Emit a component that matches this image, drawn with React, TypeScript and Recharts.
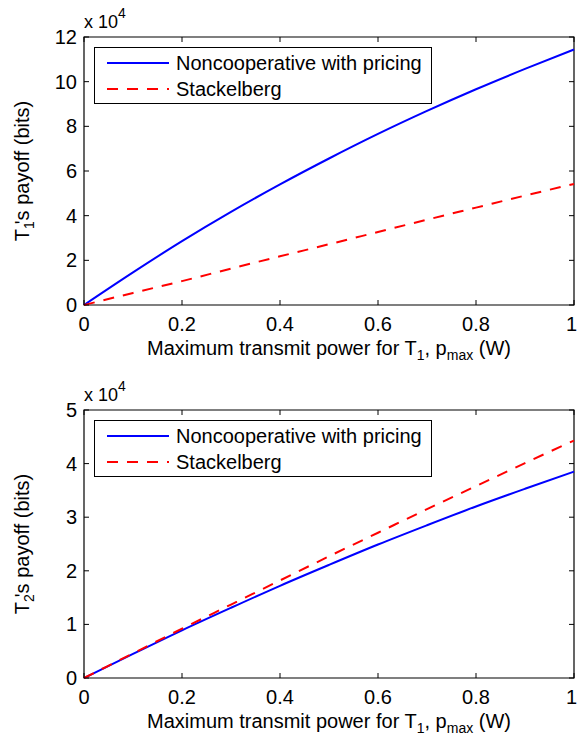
import React from "react";
import { LineChart, Line, XAxis, YAxis, ReferenceArea, Legend } from "recharts";

const powers = [0, 0.1, 0.2, 0.3, 0.4, 0.5, 0.6, 0.7, 0.8, 0.9, 1];
const t1Noncoop = [0, 14600, 28600, 41700, 54000, 65600, 76600, 86900, 96600, 105700, 114400];
const t1Stackelberg = [0, 5400, 10700, 16300, 21800, 27200, 32700, 38200, 43600, 49000, 54200];
const t2Noncoop = [0, 4500, 8900, 13100, 17200, 21100, 24900, 28500, 32000, 35300, 38500];
const t2Stackelberg = [0, 4600, 9200, 13700, 18200, 22700, 27100, 31500, 35800, 40100, 44300];

const xTicks = [0, 0.2, 0.4, 0.6, 0.8, 1];
const t1Ticks = [0, 20000, 40000, 60000, 80000, 100000, 120000];
const t2Ticks = [0, 10000, 20000, 30000, 40000, 50000];
const seriesNames = ["Noncooperative with pricing", "Stackelberg"];

const FONT = "'Liberation Sans', Arial, Helvetica, sans-serif";
const CHART_W = 578;
const PLOT_W = 490;
const PLOT_H = 268;
const TICK_FS = 20;
const LABEL_FS = 20;
const SUB_FS = 14;

const t1Data = powers.map((p, i) => ({ p, noncoop: t1Noncoop[i], stackelberg: t1Stackelberg[i] }));
const t2Data = powers.map((p, i) => ({ p, noncoop: t2Noncoop[i], stackelberg: t2Stackelberg[i] }));

function XTick(props: any) {
  const { x, y, payload } = props;
  const label = String(payload.value);
  // keep the last label inside the svg edge
  const atEdge = x + 7 > CHART_W;
  return (
    <g>
      <line x1={x} x2={x} y1={y} y2={y - 5} stroke="#000" />
      <line x1={x} x2={x} y1={y - PLOT_H} y2={y - PLOT_H + 5} stroke="#000" />
      <text
        x={atEdge ? CHART_W - 1 : x}
        y={y + 26}
        textAnchor={atEdge ? "end" : "middle"}
        fontSize={TICK_FS}
        fontFamily={FONT}
        fill="#000"
      >
        {label}
      </text>
    </g>
  );
}

function YTick(props: any) {
  const { x, y, payload } = props;
  return (
    <g>
      <line x1={x} x2={x + 5} y1={y} y2={y} stroke="#000" />
      <line x1={x + PLOT_W} x2={x + PLOT_W - 5} y1={y} y2={y} stroke="#000" />
      <text x={x - 7} y={y + 7} textAnchor="end" fontSize={TICK_FS} fontFamily={FONT} fill="#000">
        {String(payload.value / 10000)}
      </text>
    </g>
  );
}

function xLabel(props: any) {
  const vb = props.viewBox;
  const cx = vb.x + vb.width / 2;
  return (
    <text x={cx} y={vb.y + 50} textAnchor="middle" fontSize={LABEL_FS} fontFamily={FONT} fill="#000">
      Maximum transmit power for T
      <tspan dy={5} fontSize={SUB_FS}>1</tspan>
      <tspan dy={-5}>, p</tspan>
      <tspan dy={5} fontSize={SUB_FS}>max</tspan>
      <tspan dy={-5}> (W)</tspan>
    </text>
  );
}

function makeYLabel(idx: string) {
  return (props: any) => {
    const vb = props.viewBox;
    const left = vb.x + vb.width;
    const cy = vb.y + vb.height / 2;
    return (
      <g>
        <text x={left} y={vb.y - 9} fontSize={18} fontFamily={FONT} fill="#000">
          x 10<tspan dy={-10} fontSize={SUB_FS}>4</tspan>
        </text>
        <text
          x={29}
          y={cy}
          transform={`rotate(-90, 29, ${cy})`}
          textAnchor="middle"
          fontSize={LABEL_FS}
          fontFamily={FONT}
          fill="#000"
        >
          T<tspan dy={5} fontSize={SUB_FS}>{idx}</tspan>
          <tspan dy={-5} dx={-3}>'s payoff (bits)</tspan>
        </text>
      </g>
    );
  };
}

const DASHES = [undefined, "11 9"];

function renderLegend(props: any) {
  const payload = props.payload || [];
  return (
    <div
      style={{
        width: 338,
        height: 57,
        boxSizing: "border-box",
        border: "1px solid #000",
        background: "#fff",
        position: "relative",
        fontFamily: FONT,
        fontSize: LABEL_FS,
        color: "#000",
      }}
    >
      {payload.map((e: any, i: number) => (
        <div key={i} style={{ position: "absolute", left: 0, top: 2 + 26 * i, height: 26, width: 336 }}>
          <svg width={64} height={26} style={{ position: "absolute", left: 12, top: 0 }}>
            <line
              x1={0}
              x2={62}
              y1={13}
              y2={13}
              stroke={e.color}
              strokeWidth={2}
              strokeDasharray={(e.payload && e.payload.strokeDasharray) || DASHES[i]}
            />
          </svg>
          <span style={{ position: "absolute", left: 81, top: 0, lineHeight: "26px", whiteSpace: "nowrap" }}>
            {e.value}
          </span>
        </div>
      ))}
    </div>
  );
}

function PayoffChart(props: {
  data: any[];
  yMax: number;
  yTicks: number[];
  idx: string;
  height: number;
  marginTop: number;
  marginBottom: number;
}) {
  const { data, yMax, yTicks, idx, height, marginTop, marginBottom } = props;
  return (
    <LineChart
      width={CHART_W}
      height={height}
      data={data}
      margin={{ top: marginTop, right: 4, bottom: marginBottom, left: 24 }}
      style={{ fontFamily: FONT }}
    >
      <XAxis
        dataKey="p"
        type="number"
        domain={[0, 1]}
        ticks={xTicks}
        height={30}
        tickSize={0}
        tickMargin={0}
        tickLine={false}
        axisLine={false}
        tick={<XTick />}
        interval={0}
        label={xLabel}
      />
      <YAxis
        type="number"
        domain={[0, yMax]}
        ticks={yTicks}
        width={60}
        tickSize={0}
        tickMargin={0}
        tickLine={false}
        axisLine={false}
        tick={<YTick />}
        interval={0}
        label={makeYLabel(idx)}
      />
      <ReferenceArea x1={0} x2={1} y1={0} y2={yMax} fill="none" fillOpacity={0} stroke="#000" strokeWidth={1.2} />
      <Legend
        verticalAlign="middle"
        align="center"
        layout="horizontal"
        content={renderLegend}
        wrapperStyle={{ left: 94, top: marginTop + 10, width: 338, height: 57 }}
      />
      <Line
        type="monotone"
        dataKey="noncoop"
        name={seriesNames[0]}
        stroke="#0000ff"
        strokeWidth={2}
        dot={false}
        isAnimationActive={false}
      />
      <Line
        type="monotone"
        dataKey="stackelberg"
        name={seriesNames[1]}
        stroke="#ff0000"
        strokeWidth={2}
        strokeDasharray={DASHES[1]}
        dot={false}
        isAnimationActive={false}
      />
    </LineChart>
  );
}

export default function App() {
  return (
    <div style={{ position: "absolute", left: 0, top: 0, width: 578, height: 735, background: "#fff" }}>
      <div style={{ position: "absolute", left: 0, top: 0 }}>
        <PayoffChart data={t1Data} yMax={120000} yTicks={t1Ticks} idx="1" height={367} marginTop={37} marginBottom={32} />
      </div>
      <div style={{ position: "absolute", left: 0, top: 367 }}>
        <PayoffChart data={t2Data} yMax={50000} yTicks={t2Ticks} idx="2" height={368} marginTop={43} marginBottom={27} />
      </div>
    </div>
  );
}
